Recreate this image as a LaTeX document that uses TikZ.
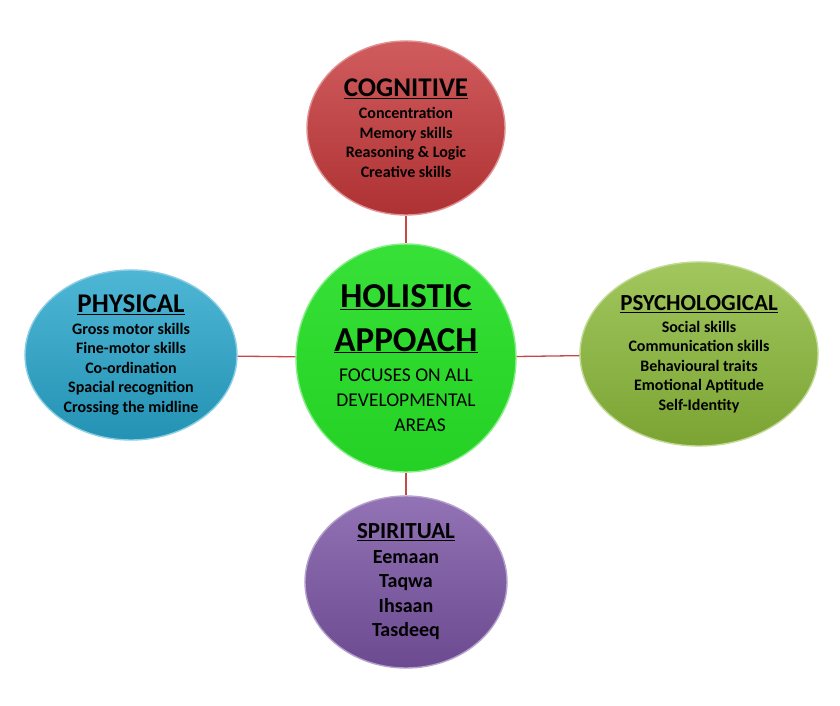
\documentclass[tikz,border=0pt]{standalone}
\usepackage{fontspec}
\setmainfont{Carlito}
\usetikzlibrary{shapes.geometric}

\definecolor{cogred}{RGB}{198,56,58}
\definecolor{holgreen}{RGB}{38,222,38}
\definecolor{physblue}{RGB}{40,166,204}
\definecolor{psyolive}{RGB}{140,186,58}
\definecolor{spipurple}{RGB}{122,84,164}
\definecolor{linkred}{RGB}{200,72,72}

\newcommand\areahead[2]{{\fontsize{#1}{#1}\selectfont\underline{#2}}}

\begin{document}
\begin{tikzpicture}[x=1pt, y=-1pt,
    blob/.style={ellipse, inner sep=0pt, align=center, text=black,
      font=\bfseries\fontsize{16}{19.5}\selectfont,
      draw=#1!55!white, line width=1.4pt,
      top color=#1!82!white, bottom color=#1!88!black},
    link/.style={draw=linkred, line width=1.3pt}]
  \useasboundingbox (0,0) rectangle (840,706);

  \node[blob=holgreen, minimum width=220, minimum height=228,
        top color=holgreen!92!white, bottom color=holgreen!94!black,
        font=\bfseries\fontsize{35}{25}\selectfont] (hol) at (406,358)
    {\underline{HOLISTIC}\\[17pt]
     \underline{APPOACH}\\[5pt]
     {\mdseries\fontsize{19.5}{25}\selectfont FOCUSES ON ALL}\\
     {\mdseries\fontsize{19.5}{25}\selectfont DEVELOPMENTAL}\\
     {\mdseries\fontsize{19.5}{25}\selectfont\hspace*{28pt}AREAS}};

  \node[blob=cogred, minimum width=198, minimum height=174] (cog) at (406,128)
    {\areahead{27}{COGNITIVE}\\[2.5pt]
     Concentration\\ Memory skills\\ Reasoning \& Logic\\ Creative skills};

  \node[blob=physblue, minimum width=212, minimum height=170] (phys) at (131,355)
    {\areahead{27}{PHYSICAL}\\[2pt]
     Gross motor skills\\ Fine-motor skills\\ Co-ordination\\
     Spacial recognition\\ Crossing the midline};

  \node[blob=psyolive, minimum width=238, minimum height=184] (psy) at (699,354)
    {\areahead{23}{PSYCHOLOGICAL}\\[2pt]
     Social skills\\ Communication skills\\ Behavioural traits\\
     Emotional Aptitude\\ Self-Identity};

  \node[blob=spipurple, minimum width=202, minimum height=172,
        font=\bfseries\fontsize{20}{24.5}\selectfont] (spi) at (406,582)
    {\areahead{23}{SPIRITUAL}\\
     Eemaan\\ Taqwa\\ Ihsaan\\ Tasdeeq};

  \draw[link] (cog) -- (hol);
  \draw[link] (phys) -- (hol);
  \draw[link] (hol) -- (psy);
  \draw[link] (hol) -- (spi);
\end{tikzpicture}
\end{document}
